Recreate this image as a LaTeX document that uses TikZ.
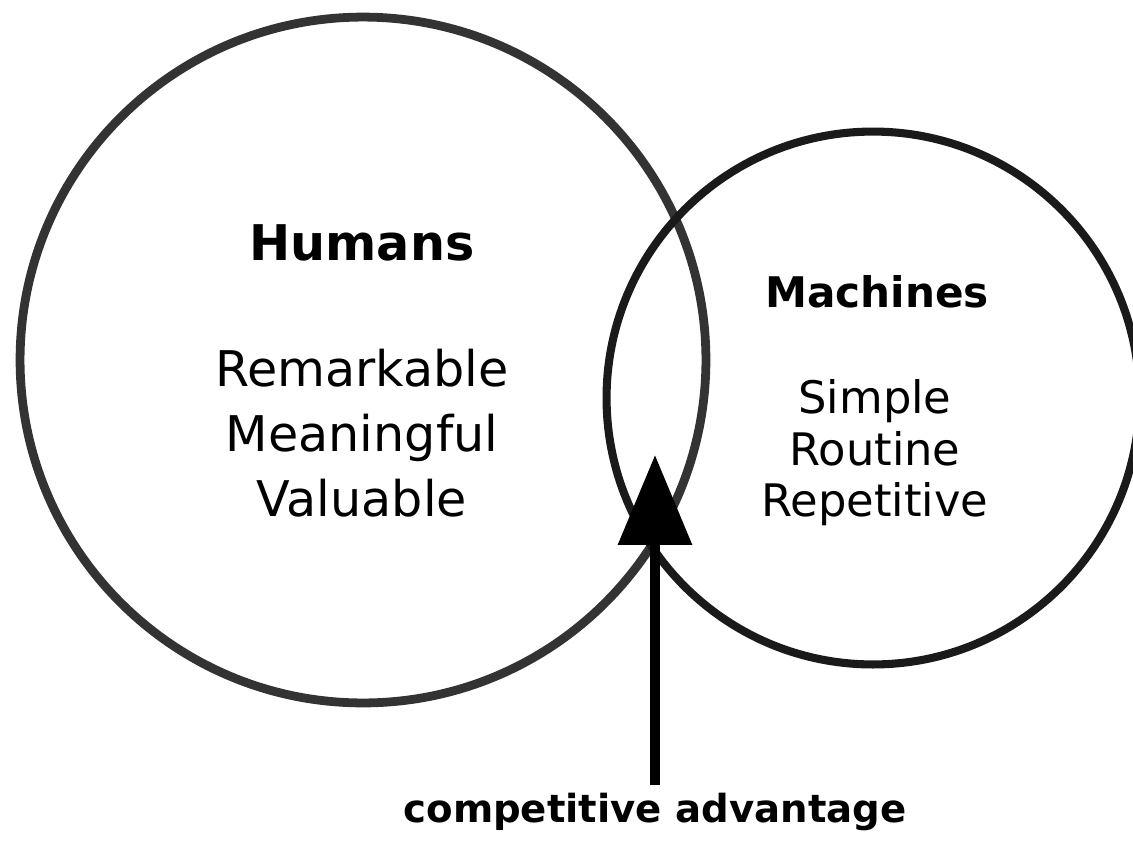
\documentclass[tikz,border=0pt]{standalone}
\usepackage{fontspec}
\setmainfont{DejaVu Sans}
\usetikzlibrary{positioning,arrows.meta}
\definecolor{ringgrey}{HTML}{333333}
\definecolor{ringdark}{HTML}{1A1A1A}

\begin{document}
\begin{tikzpicture}[x=0.02cm,y=-0.02cm,
  ring/.style={circle,draw,inner sep=0pt},
  title text/.style={anchor=base,font=\bfseries},
  list text/.style={anchor=base}]

\useasboundingbox (0,0) rectangle (1133,840);

\node[ring,draw=ringgrey,line width=5pt,minimum size=13.72cm] (H) at (363,360) {};
\node[ring,draw=ringdark,line width=4.6pt,minimum size=10.66cm] (M) at (873,398) {};

\node[title text,font=\fontsize{28}{28}\selectfont\bfseries] (Ht) at (362,260) {Humans};
\node[list text,font=\fontsize{28}{28}\selectfont] (H1) at (362,386) {Remarkable};
\node[list text,font=\fontsize{28}{28}\selectfont] (H2) at (362,451) {Meaningful};
\node[list text,font=\fontsize{28}{28}\selectfont] (H3) at (362,516) {Valuable};

\node[title text,font=\fontsize{24}{24}\selectfont\bfseries] (Mt) at (877,307) {Machines};
\node[list text,font=\fontsize{25.5}{25.5}\selectfont] (M1) at (875,413) {Simple};
\node[list text,font=\fontsize{25.5}{25.5}\selectfont] (M2) at (875,465) {Routine};
\node[list text,font=\fontsize{25.5}{25.5}\selectfont] (M3) at (875,516) {Repetitive};

\node[title text,font=\fontsize{22}{22}\selectfont\bfseries,inner sep=1pt] (cav) at (655,822) {competitive advantage};
\coordinate (tip) at (655,455);

\draw[-{Triangle[length=1.8cm,width=1.44cm]},line width=0.2cm] (cav.north) ++(0,-6) -- (tip);
\end{tikzpicture}
\end{document}
